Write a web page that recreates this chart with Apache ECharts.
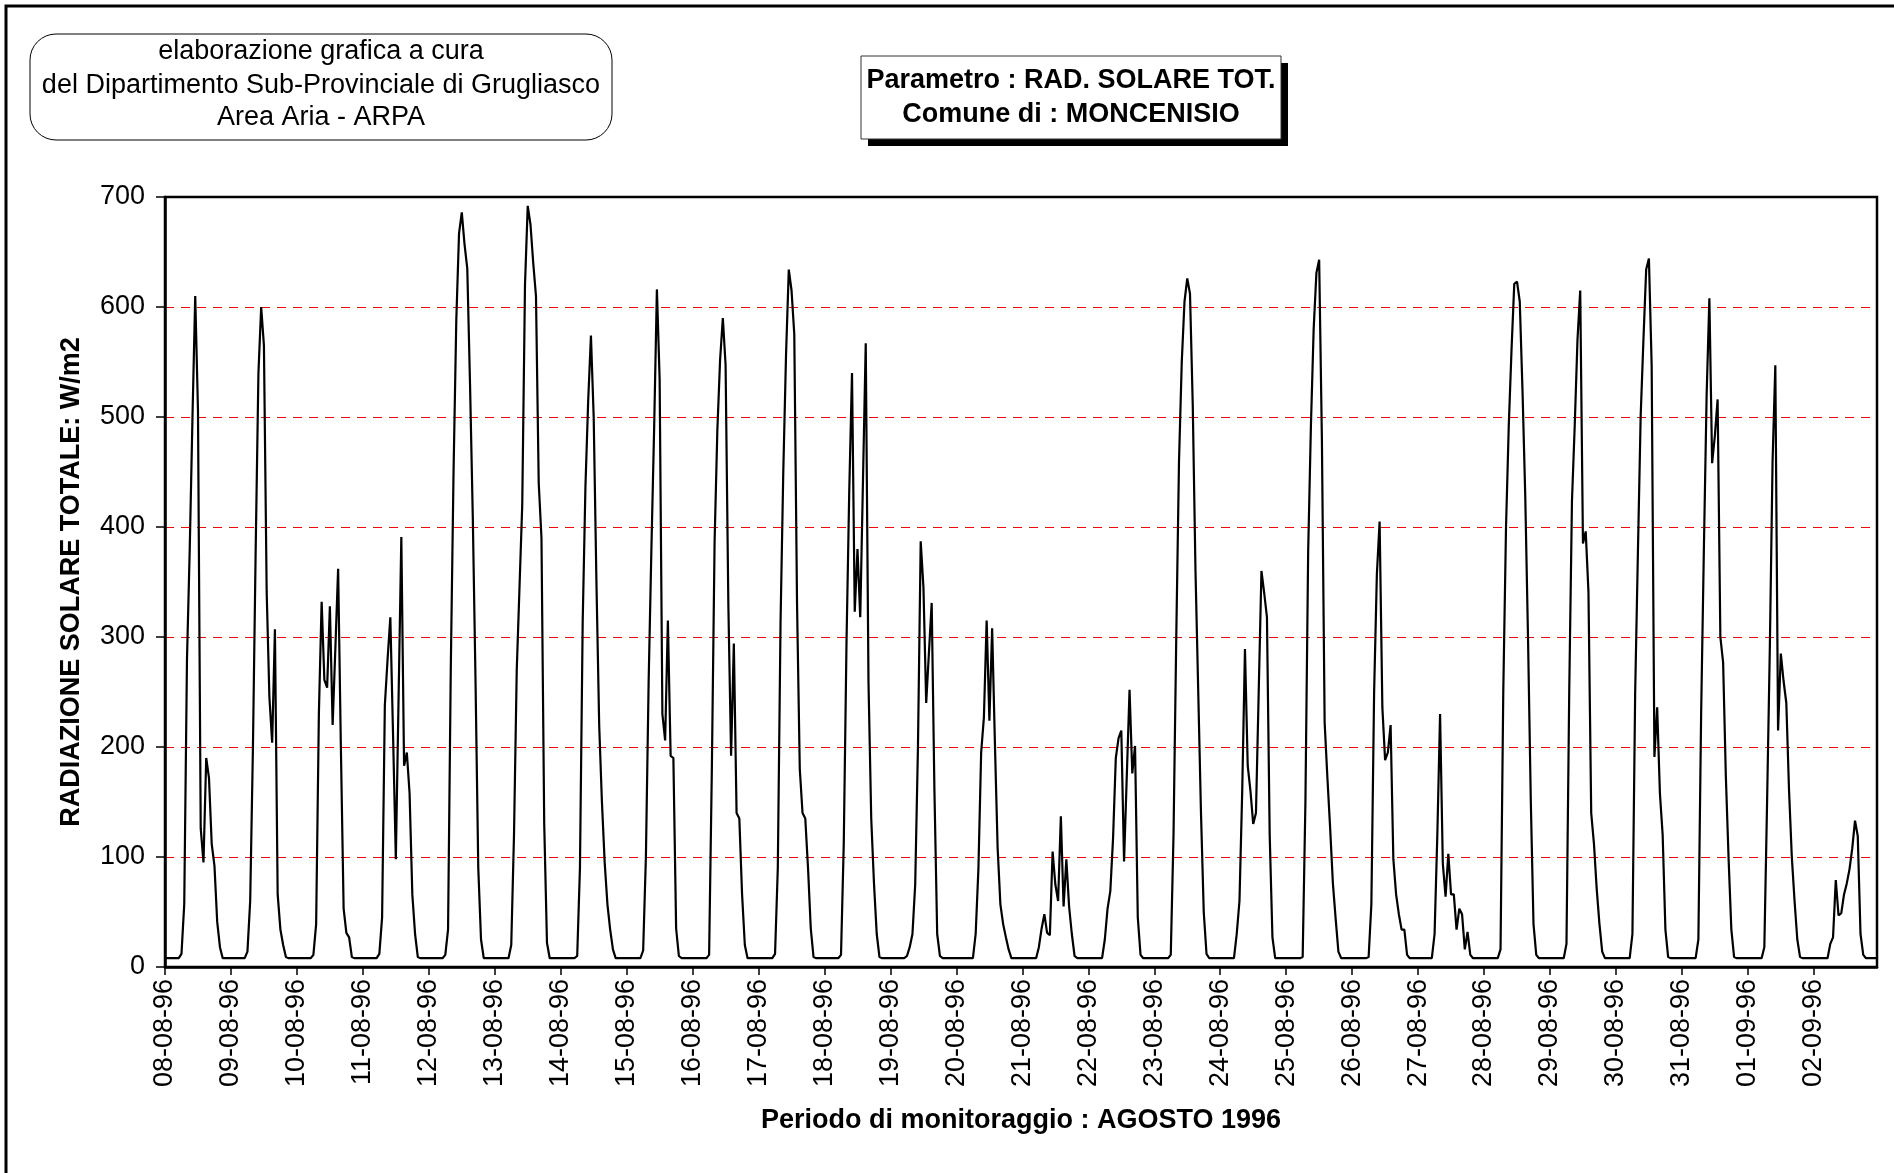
<!DOCTYPE html>
<html><head><meta charset="utf-8">
<script src="https://cdn.jsdelivr.net/npm/echarts@6/dist/echarts.min.js"></script>
<style>html,body{margin:0;padding:0;background:#fff}#c{width:1894px;height:1173px}</style>
</head><body><div id="c"></div>
<script>
// Day labels (x axis tick labels)
const dayLabels = ['08-08-96','09-08-96','10-08-96','11-08-96','12-08-96','13-08-96','14-08-96','15-08-96','16-08-96','17-08-96','18-08-96','19-08-96','20-08-96','21-08-96','22-08-96','23-08-96','24-08-96','25-08-96','26-08-96','27-08-96','28-08-96','29-08-96','30-08-96','31-08-96','01-09-96','02-09-96'];
// Hourly values (W/m2), hours 00..23, one array per day
const d0808 = [8,8,8,8,8,8,12,57,280,380,500,610,506,126,95,190,172,112,92,41,18,8,8,8];
const d0908 = [8,8,8,8,8,8,14,60,200,380,540,600,565,341,245,204,307,66,34,20,9,8,8,8];
const d1008 = [8,8,8,8,8,8,11,39,231,332,261,254,328,220,290,362,200,53,31,27,9,8,8,8];
const d1108 = [8,8,8,8,8,8,12,45,238,280,318,210,98,245,391,183,195,158,66,30,9,8,8,8];
const d1208 = [8,8,8,8,8,8,11,34,272,450,588,667,686,657,635,530,410,260,90,25,8,8,8,8];
const d1308 = [8,8,8,8,8,8,20,120,270,345,420,620,692,675,640,610,440,390,130,22,8,8,8,8];
const d1408 = [8,8,8,8,8,8,10,90,314,437,515,574,500,350,220,150,95,57,34,16,8,8,8,8];
const d1508 = [8,8,8,8,8,8,15,100,260,380,490,616,534,230,206,315,192,190,35,10,8,8,8,8];
const d1608 = [8,8,8,8,8,8,11,180,387,488,552,590,547,330,192,294,140,135,66,20,8,8,8,8];
const d1708 = [8,8,8,8,8,8,12,90,314,451,557,634,615,575,330,180,140,135,90,35,9,8,8,8];
const d1808 = [8,8,8,8,8,8,11,112,295,433,540,323,380,318,443,567,259,135,76,30,9,8,8,8];
const d1908 = [8,8,8,8,8,8,10,18,30,75,200,387,345,240,286,331,160,30,10,8,8,8,8,8];
const d2008 = [8,8,8,8,8,8,8,30,89,195,227,315,224,308,204,108,57,39,27,16,8,8,8,8];
const d2108 = [8,8,8,8,8,8,18,35,48,31,29,105,75,60,137,55,98,55,30,10,8,8,8,8];
const d2208 = [8,8,8,8,8,8,25,53,69,117,190,208,215,96,174,252,176,201,45,11,8,8,8,8];
const d2308 = [8,8,8,8,8,8,11,120,300,460,550,605,626,612,511,360,250,140,50,12,8,8,8,8];
const d2408 = [8,8,8,8,8,8,30,60,160,289,183,160,130,140,250,360,340,318,120,27,8,8,8,8];
const d2508 = [8,8,8,8,8,8,9,150,378,492,580,631,643,479,222,172,126,76,44,14,8,8,8,8];
const d2608 = [8,8,8,8,8,8,9,57,250,357,405,236,188,195,220,98,66,48,34,34,11,8,8,8];
const d2708 = [8,8,8,8,8,8,30,120,230,94,64,103,66,66,34,53,48,16,32,11,8,8,8,8];
const d2808 = [8,8,8,8,8,8,16,250,400,492,561,621,623,605,524,428,300,153,39,11,8,8,8,8];
const d2908 = [8,8,8,8,8,8,21,250,424,492,570,615,385,396,341,140,112,71,39,14,8,8,8,8];
const d3008 = [8,8,8,8,8,8,30,250,378,501,570,634,644,547,191,236,158,120,34,9,8,8,8,8];
const d3108 = [8,8,8,8,8,8,25,230,380,520,608,458,483,516,300,277,173,98,34,9,8,8,8,8];
const d0109 = [8,8,8,8,8,8,18,150,290,460,547,215,285,260,240,160,100,60,25,9,8,8,8,8];
const d0209 = [8,8,8,8,8,8,21,27,79,47,49,66,76,89,108,133,119,30,11,8,8,8,8,8];
const days = [d0808,d0908,d1008,d1108,d1208,d1308,d1408,d1508,d1608,d1708,d1808,d1908,d2008,d2108,d2208,d2308,d2408,d2508,d2608,d2708,d2808,d2908,d3008,d3108,d0109,d0209];
const yMin = 0, yMax = 700, yStep = 100;

const categories = [];
const values = [];
days.forEach((arr, d) => arr.forEach((v, h) => {
  categories.push(dayLabels[d] + ' ' + String(h).padStart(2, '0'));
  values.push(v);
}));

const FONT = '"Liberation Sans", Arial, sans-serif';
const RED = '#ff0000', NONE = 'rgba(0,0,0,0)';
const chart = echarts.init(document.getElementById('c'), null, {renderer: 'canvas'});
const isDay = (i) => i % 24 === 0;
chart.setOption({
  animation: false,
  backgroundColor: '#fff',
  grid: {left: 165, right: 17, top: 197, bottom: 206, show: true, borderColor: '#000', borderWidth: 2.5, backgroundColor: 'transparent'},
  xAxis: {
    type: 'category', data: categories, boundaryGap: false,
    axisLine: {lineStyle: {color: '#000', width: 2.5}},
    axisTick: {show: true, interval: isDay, length: 8, lineStyle: {color: '#000', width: 1.5}},
    axisLabel: {interval: isDay, rotate: 90, formatter: v => v.slice(0, 8), fontSize: 27, color: '#000', fontFamily: FONT, margin: 12},
    splitLine: {show: false},
    name: 'Periodo di monitoraggio : AGOSTO 1996', nameLocation: 'middle', nameGap: 140,
    nameTextStyle: {fontWeight: 'bold', fontSize: 27, color: '#000', fontFamily: FONT}
  },
  yAxis: {
    type: 'value', min: yMin, max: yMax, interval: yStep,
    axisLine: {show: true, lineStyle: {color: '#000', width: 2.5}},
    axisTick: {show: true, length: 9, lineStyle: {color: '#000', width: 1.5}},
    axisLabel: {fontSize: 27, color: '#000', fontFamily: FONT, margin: 20},
    splitLine: {show: true, lineStyle: {color: [NONE, RED, RED, RED, RED, RED, RED, NONE], type: [9, 7], width: 1}},
    name: 'RADIAZIONE SOLARE TOTALE: W/m2', nameLocation: 'middle', nameGap: 80,
    nameTextStyle: {fontWeight: 'bold', fontSize: 27, color: '#000', fontFamily: FONT}
  },
  series: [{type: 'line', data: values, showSymbol: false, silent: true,
    lineStyle: {color: '#000', width: 2.2}, itemStyle: {color: '#000'}}],
  graphic: [
    {type: 'rect', shape: {x: 6, y: 6, width: 1900, height: 1180}, style: {fill: 'none', stroke: '#000', lineWidth: 3}, silent: true},
    {type: 'rect', shape: {x: 30, y: 34, width: 582, height: 106, r: 26}, style: {fill: '#fff', stroke: '#000', lineWidth: 1}},
    {type: 'text', x: 321, y: 52, style: {text: 'elaborazione grafica a cura', fontSize: 27, fontFamily: FONT, fill: '#000', textAlign: 'center', textVerticalAlign: 'middle'}},
    {type: 'text', x: 321, y: 86, style: {text: 'del Dipartimento Sub-Provinciale di Grugliasco', fontSize: 27, fontFamily: FONT, fill: '#000', textAlign: 'center', textVerticalAlign: 'middle'}},
    {type: 'text', x: 321, y: 118, style: {text: 'Area Aria - ARPA', fontSize: 27, fontFamily: FONT, fill: '#000', textAlign: 'center', textVerticalAlign: 'middle'}},
    {type: 'rect', shape: {x: 868, y: 63, width: 420, height: 83}, style: {fill: '#000'}},
    {type: 'rect', shape: {x: 861, y: 56, width: 420, height: 83}, style: {fill: '#fff', stroke: '#333', lineWidth: 1}},
    {type: 'text', x: 1071, y: 81, style: {text: 'Parametro : RAD. SOLARE TOT.', fontSize: 27, fontWeight: 'bold', fontFamily: FONT, fill: '#000', textAlign: 'center', textVerticalAlign: 'middle'}},
    {type: 'text', x: 1071, y: 115, style: {text: 'Comune di : MONCENISIO', fontSize: 27, fontWeight: 'bold', fontFamily: FONT, fill: '#000', textAlign: 'center', textVerticalAlign: 'middle'}}
  ]
});
</script></body></html>
